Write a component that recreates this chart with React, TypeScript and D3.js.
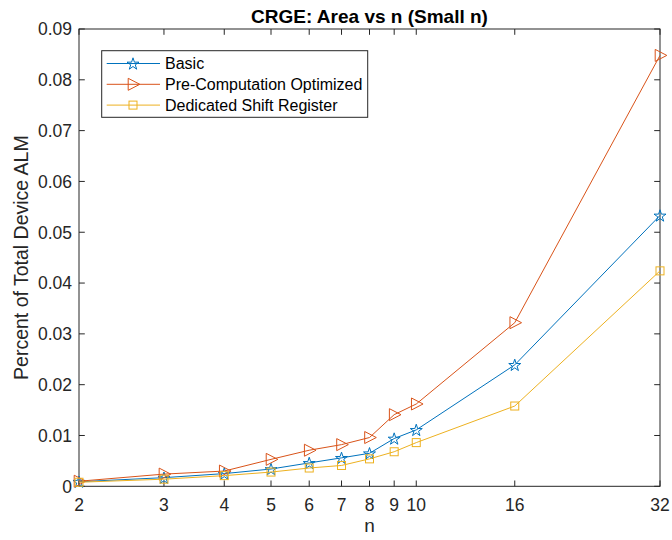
import React from "react";
import * as d3 from "d3";

const nValues = [2, 3, 4, 5, 6, 7, 8, 9, 10, 16, 32];
const basic = [0.0009, 0.0017, 0.0025, 0.0034, 0.0046, 0.0056, 0.0065, 0.0094, 0.0111, 0.0239, 0.0533];
const preComp = [0.001, 0.0024, 0.003, 0.0053, 0.0071, 0.0082, 0.0096, 0.0141, 0.0162, 0.0322, 0.0848];
const dedicated = [0.0008, 0.0014, 0.0021, 0.0028, 0.0036, 0.0041, 0.0054, 0.0068, 0.0086, 0.0158, 0.0424];
const seriesNames = ["Basic", "Pre-Computation Optimized", "Dedicated Shift Register"];
const yTicks = [0, 0.01, 0.02, 0.03, 0.04, 0.05, 0.06, 0.07, 0.08, 0.09];
const xTicks = [2, 3, 4, 5, 6, 7, 8, 9, 10, 16, 32];

const W = 672;
const H = 540;
const L = 79, R = 660, T = 29, B = 486.3;
const FONT = "Liberation Sans, Arial, Helvetica, sans-serif";
const AX = "#262626";

const colors = ["#0072BD", "#D95319", "#EDB120"];
const markers = ["star", "tri", "square"];

function starPath(r: number) {
  const pts: string[] = [];
  const ri = r * 0.382;
  for (let i = 0; i < 10; i++) {
    const a = -Math.PI / 2 + (i * Math.PI) / 5;
    const rr = i % 2 === 0 ? r : ri;
    pts.push(`${(rr * Math.cos(a)).toFixed(2)},${(rr * Math.sin(a)).toFixed(2)}`);
  }
  return "M" + pts.join("L") + "Z";
}

function Marker({ type, x, y, color }: { type: string; x: number; y: number; color: string }) {
  if (type === "star") {
    return <path d={starPath(6.3)} transform={`translate(${x},${y + 0.6})`} fill="none" stroke={color} strokeWidth={1} />;
  }
  if (type === "tri") {
    return <path d="M5.8,0L-5.8,-6L-5.8,6Z" transform={`translate(${x + 1},${y})`} fill="none" stroke={color} strokeWidth={1} />;
  }
  return <rect x={x - 4} y={y - 4} width={8} height={8} fill="none" stroke={color} strokeWidth={1} />;
}

export default function App() {
  const x = d3.scaleLog().domain([2, 32]).range([L, R]);
  const y = d3.scaleLinear().domain([0, 0.09]).range([B, T]);
  const data = [basic, preComp, dedicated];
  const line = d3
    .line<number>()
    .x((_, i) => x(nValues[i]))
    .y((d) => y(d));
  const tl = 5.8;

  return (
    <div style={{ position: "fixed", left: 0, top: 0, width: W, height: H, background: "#fff" }}>
      <svg width={W} height={H} style={{ display: "block" }} fontFamily={FONT}>
        <rect x={0} y={0} width={W} height={H} fill="#fff" />
        {/* title */}
        <text x={(L + R) / 2} y={22.5} textAnchor="middle" fontSize={19} fontWeight="bold" fill="#000">
          CRGE: Area vs n (Small n)
        </text>
        {/* axes box */}
        <rect x={L} y={T} width={R - L} height={B - T} fill="none" stroke={AX} strokeWidth={1} />
        {/* y ticks */}
        {yTicks.map((t) => (
          <g key={"y" + t}>
            <line x1={L} x2={L + tl} y1={y(t)} y2={y(t)} stroke={AX} strokeWidth={1} />
            <line x1={R} x2={R - tl} y1={y(t)} y2={y(t)} stroke={AX} strokeWidth={1} />
            <text x={L - 7} y={y(t)} dy="0.36em" textAnchor="end" fontSize={17.5} fill={AX}>
              {t === 0 ? "0" : t.toFixed(2)}
            </text>
          </g>
        ))}
        {/* x ticks */}
        {xTicks.map((t) => (
          <g key={"x" + t}>
            <line x1={x(t)} x2={x(t)} y1={B} y2={B - tl} stroke={AX} strokeWidth={1} />
            <line x1={x(t)} x2={x(t)} y1={T} y2={T + tl} stroke={AX} strokeWidth={1} />
            <text x={x(t)} y={B + 25} textAnchor="middle" fontSize={17.5} fill={AX}>
              {t}
            </text>
          </g>
        ))}
        {/* axis labels */}
        <text x={(L + R) / 2} y={532} textAnchor="middle" fontSize={19} fill={AX}>
          n
        </text>
        <text
          transform={`translate(28,${(T + B) / 2}) rotate(-90)`}
          textAnchor="middle"
          fontSize={19.5}
          fill={AX}
        >
          Percent of Total Device ALM
        </text>
        {/* series */}
        {data.map((s, si) => (
          <g key={"s" + si}>
            <path d={line(s) || ""} fill="none" stroke={colors[si]} strokeWidth={1} />
            {s.map((v, i) => (
              <Marker key={i} type={markers[si]} x={x(nValues[i])} y={y(v)} color={colors[si]} />
            ))}
          </g>
        ))}
        {/* legend */}
        <rect x={101.7} y={50.7} width={266} height={66.6} fill="#fff" stroke={AX} strokeWidth={1} />
        {seriesNames.map((name, i) => {
          const ly = 63.5 + i * 20.8;
          return (
            <g key={"l" + i}>
              <line x1={106.7} x2={160} y1={ly} y2={ly} stroke={colors[i]} strokeWidth={1} />
              <Marker type={markers[i]} x={133} y={ly} color={colors[i]} />
              <text x={165} y={ly} dy="0.36em" fontSize={16} fill="#000">
                {name}
              </text>
            </g>
          );
        })}
      </svg>
    </div>
  );
}
